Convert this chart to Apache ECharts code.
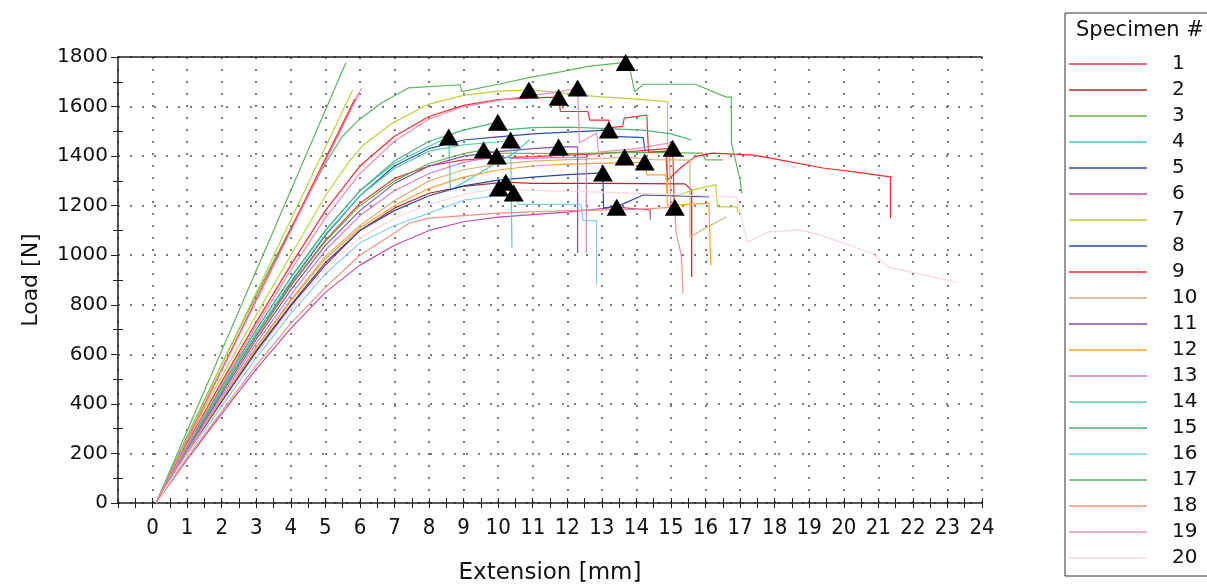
<!DOCTYPE html>
<html><head><meta charset="utf-8">
<script src="https://cdn.jsdelivr.net/npm/echarts@6/dist/echarts.min.js"></script>
<style>html,body{margin:0;padding:0;background:#fff}#c{width:1207px;height:586px}</style>
</head><body><div id="c"></div>
<script>
const specimens = ['1','2','3','4','5','6','7','8','9','10','11','12','13','14','15','16','17','18','19','20'];
const colors = ['#e8393c','#b02a2a','#62b84e','#45c8c8','#2a4fb0','#c04ab0','#b5d53a','#2a4aa8','#ff2a2a','#d8b07a',
                '#8a4cc0','#ffa030','#d77ad0','#5ccfb0','#4db37a','#80d0f0','#5db55d','#f09080','#f08cb8','#ffd6d6'];

const s1 = [[0.1,0],[1,220],[2,450],[3,675],[4,880],[5,1060],[6,1210],[7,1310],[8,1360],[9,1385],[10,1393],[11,1398],[12,1404],[13,1410],[14,1420],[15.05,1432],[15.1,1180]];
const s2 = [[0.1,0],[1,200],[2,410],[3,610],[4,795],[5,960],[6,1100],[7,1190],[8,1250],[9,1278],[10.22,1295],[11,1290],[13,1290],[15.4,1288],[15.6,1263],[15.6,912]];
const s3 = [[0.1,0],[1,220],[2,450],[3,670],[4,875],[5,1055],[6,1200],[7,1300],[8,1370],[9,1410],[9.58,1425],[10,1412],[12,1410],[14,1415],[15.9,1412],[16,1385],[16.5,1385]];
const s4 = [[0.1,0],[1,230],[2,470],[3,700],[4,910],[5,1100],[6,1260],[7,1370],[8,1440],[8.57,1477],[8.62,1263],[9.2,1310],[9.8,1360],[10.5,1415],[10.9,1465]];
const s5 = [[0.1,0],[1,225],[2,460],[3,685],[4,890],[5,1080],[6,1240],[7,1360],[8,1430],[9,1465],[10,1478],[11,1490],[12,1497],[13.2,1505],[13.3,1480],[14.2,1475],[14.25,1420]];
const s6 = [[0.1,0],[1,175],[2,360],[3,540],[4,705],[5,850],[6,960],[7,1040],[8,1100],[9,1135],[10,1154],[12,1174],[13.43,1194],[14.4,1182],[14.4,1142]];
const s7 = [[0.1,0],[1,250],[2,510],[3,760],[4,1000],[5,1240],[5.7,1380],[6.1,1445],[6.9,1530],[8,1610],[9,1645],[10,1662],[10.89,1667],[11.5,1660],[12.5,1645],[12.9,1640],[14,1630],[14.9,1620],[14.9,1245],[15.1,1235],[15.6,1262],[16.3,1285],[16.35,1195],[16.9,1195],[16.95,1170]];
const s8 = [[0.1,0],[1,200],[2,410],[3,615],[4,800],[5,970],[6,1100],[7,1180],[8,1240],[9,1280],[10,1303],[11,1315],[12,1325],[13.03,1332],[13.05,1190],[13.5,1200],[14.2,1243],[15,1240],[16.1,1235]];
const s9 = [[0.1,0],[1,240],[2,490],[3,730],[4,960],[5,1180],[6,1360],[7,1480],[8,1560],[9,1605],[10,1628],[11,1635],[11.75,1638],[11.8,1580],[12.6,1580],[12.65,1545],[13.2,1545],[13.25,1515],[13.6,1520],[13.65,1553],[14.3,1566],[14.35,1416],[14.85,1420],[14.9,1303],[15.3,1355],[15.7,1398],[16.2,1412],[17.4,1404],[18.5,1376],[19.4,1352],[20.3,1336],[21.35,1316],[21.35,1150]];
const s10 = [[0.1,0],[1,205],[2,420],[3,630],[4,820],[5,995],[6,1120],[7,1220],[8,1300],[9,1345],[10,1368],[11,1380],[12,1386],[13,1390],[13.66,1396],[14.5,1386],[15.55,1384],[15.55,1073],[16,1110],[16.6,1154]];
const s11 = [[0.1,0],[1,215],[2,440],[3,660],[4,860],[5,1040],[6,1180],[7,1290],[8,1360],[9,1400],[10,1418],[11,1430],[11.75,1437],[12.3,1437],[12.3,1009]];
const s12 = [[0.1,0],[1,205],[2,420],[3,625],[4,815],[5,985],[6,1110],[7,1200],[8,1270],[9,1315],[10,1344],[11,1360],[12,1368],[13.2,1372],[14.24,1376],[14.3,1324],[14.85,1324],[14.9,1200],[15.5,1205],[16.1,1210],[16.15,960]];
const s13 = [[0.1,0],[1,210],[2,430],[3,645],[4,840],[5,1020],[6,1160],[7,1260],[8,1330],[9,1375],[9.96,1400],[10.5,1390],[11.5,1393],[12.55,1396],[12.55,1009]];
const s14 = [[0.1,0],[1,225],[2,460],[3,685],[4,895],[5,1085],[6,1240],[7,1350],[8,1420],[9,1445],[10,1458],[10.36,1465],[10.4,1029]];
const s15 = [[0.1,0],[1,230],[2,470],[3,700],[4,910],[5,1100],[6,1260],[7,1380],[8,1460],[9,1505],[9.99,1537],[10.1,1505],[11,1515],[12,1517],[13,1512],[14.2,1505],[15,1490],[15.6,1465]];
const s16 = [[0.1,0],[1,190],[2,390],[3,585],[4,765],[5,925],[6,1050],[7,1120],[8,1170],[9,1222],[10.45,1251],[10.6,1205],[12.4,1205],[12.45,1140],[12.85,1140],[12.85,880]];
const s17 = [[0.1,0],[1,270],[2,560],[3,840],[4,1110],[5,1370],[5.5,1480],[6,1550],[6.6,1612],[7.4,1675],[8.9,1688],[8.95,1660],[10,1690],[11,1720],[11.8,1740],[12.6,1762],[13.69,1778],[13.8,1760],[13.95,1660],[14.2,1690],[15.7,1690],[16.6,1638],[16.75,1638],[16.75,1453],[17,1303],[17.05,1250]];
const s18 = [[0.1,0],[1,180],[2,370],[3,555],[4,725],[5,870],[6,1000],[7,1090],[7.44,1130],[8,1150],[10,1170],[12,1180],[14,1185],[15.11,1194],[15.15,1090],[15.3,1000],[15.35,847]];
const s19 = [[0.1,0],[1,235],[2,480],[3,715],[4,940],[5,1150],[6,1330],[7,1460],[8,1550],[9,1600],[10,1625],[11,1645],[11.8,1660],[12.3,1675],[12.35,1453],[12.85,1493],[12.9,1416],[14,1430],[14.95,1453],[15,1170]];
const s20 = [[0.1,0],[1,195],[2,400],[3,600],[4,780],[5,945],[6,1070],[7,1150],[8,1205],[9,1245],[10.02,1271],[11,1262],[12,1258],[13,1255],[14,1250],[15,1245],[16,1240],[16.9,1235],[17.2,1053],[17.8,1093],[18.7,1102],[19.3,1082],[20.8,1009],[21.3,952],[23.3,890]];

// early straight loading segments that stop near 5.5-6 mm
const steep1 = [[0.1,0],[5.85,1630]];
const steep7 = [[0.1,0],[5.79,1667]];
const steep9 = [[0.1,0],[5.95,1650]];
const steep17 = [[0.1,0],[5.59,1776]];
const steep19 = [[0.1,0],[6.05,1675]];

// maximum-load markers
const maxPoints = [[8.57,1477],[9.58,1425],[9.99,1537],[9.96,1400],[10.36,1465],[10.02,1271],[10.22,1295],[10.45,1251],
  [10.89,1667],[11.75,1638],[11.75,1437],[12.30,1675],[13.03,1332],[13.2,1505],[13.43,1194],[13.69,1778],[13.66,1396],
  [14.24,1376],[15.05,1432],[15.11,1194]];

const xMin = -1, xMax = 24, xStep = 1;
const yMin = 0, yMax = 1800, yStep = 200;

const curves = [s1,s2,s3,s4,s5,s6,s7,s8,s9,s10,s11,s12,s13,s14,s15,s16,s17,s18,s19,s20];
const extras = [[steep1,0],[steep7,6],[steep9,8],[steep17,16],[steep19,18]];

const FONT = "'DejaVu Sans', Verdana, sans-serif";
const FONT_C = "'DejaVu Sans Condensed', 'Liberation Sans Narrow', 'DejaVu Sans', sans-serif";

const series = [];
curves.forEach((d, i) => {
  series.push({
    name: specimens[i], type: 'line', data: d, symbol: 'none', showSymbol: false,
    lineStyle: { width: 1.2, color: colors[i] }, itemStyle: { color: colors[i] },
    xAxisIndex: 0, yAxisIndex: 0, animation: false, z: 2
  });
});
extras.forEach(([d, i]) => {
  series.push({
    name: specimens[i], type: 'line', data: d, symbol: 'none', showSymbol: false,
    lineStyle: { width: 1.2, color: colors[i] }, itemStyle: { color: colors[i] },
    xAxisIndex: 0, yAxisIndex: 0, animation: false, z: 2
  });
});
series.push({
  name: 'max', type: 'scatter', data: maxPoints, symbol: 'triangle', symbolSize: [20, 17],
  itemStyle: { color: '#000', opacity: 1 }, xAxisIndex: 0, yAxisIndex: 0, animation: false, z: 5
});

const dotted = { show: true, lineStyle: { type: [2, 10], color: '#7a7a7a', width: 2 } };
const axisCol = '#222';

const chart = echarts.init(document.getElementById('c'), null, { renderer: 'canvas' });
chart.setOption({
  animation: false,
  backgroundColor: '#fff',
  title: { text: 'Specimen #', left: 1071, top: 15, textStyle: { fontFamily: FONT, fontSize: 21, fontWeight: 'normal', color: '#111' } },
  legend: {
    data: specimens, orient: 'vertical', left: 1065, top: 13, padding: [38, 40, 5, 4],
    icon: 'rect', itemWidth: 78, itemHeight: 1.5, itemGap: 0, borderColor: '#333', borderWidth: 1,
    selectedMode: false,
    textStyle: { fontFamily: FONT, fontSize: 20, lineHeight: 22, color: '#111', padding: [4, 0, 0, 20] }
  },
  grid: { left: 118, right: 225, top: 57, bottom: 83, containLabel: false, outerBoundsMode: 'none' },
  xAxis: [
    { type: 'value', min: xMin, max: xMax, interval: xStep, position: 'bottom',
      axisLine: { show: true, onZero: false, lineStyle: { color: axisCol, width: 1.5 } },
      axisTick: { show: true, length: 5, lineStyle: { color: axisCol } },
      minorTick: { show: true, splitNumber: 2, length: 5, lineStyle: { color: axisCol } },
      axisLabel: { formatter: v => (v < 0 ? '' : String(v)), margin: 14, fontFamily: FONT_C, fontSize: 22, color: '#111' },
      splitLine: dotted,
      name: 'Extension [mm]', nameLocation: 'middle', nameGap: 59,
      nameTextStyle: { fontFamily: FONT, fontSize: 23, color: '#111' } },
    { type: 'value', min: xMin, max: xMax, interval: xStep, position: 'bottom',
      axisLine: { show: false, onZero: false },
      axisTick: { show: true, inside: true, length: 5, lineStyle: { color: axisCol } },
      minorTick: { show: true, splitNumber: 2, length: 5, lineStyle: { color: axisCol } },
      axisLabel: { show: false }, splitLine: { show: false } },
    { type: 'value', min: xMin, max: xMax, interval: xStep, position: 'top',
      axisLine: { show: true, onZero: false, lineStyle: { color: axisCol, width: 1.5 } },
      axisTick: { show: false }, axisLabel: { show: false }, splitLine: { show: false } }
  ],
  yAxis: [
    { type: 'value', min: yMin, max: yMax, interval: yStep, position: 'left',
      axisLine: { show: true, onZero: false, lineStyle: { color: axisCol, width: 1.5 } },
      axisTick: { show: true, length: 7, lineStyle: { color: axisCol } },
      minorTick: { show: true, splitNumber: 2, length: 5, lineStyle: { color: axisCol } },
      axisLabel: { formatter: v => String(v), margin: 10, fontFamily: FONT, fontSize: 20, color: '#111' },
      splitLine: dotted,
      name: 'Load [N]', nameLocation: 'middle', nameGap: 76, nameRotate: 90,
      nameTextStyle: { fontFamily: FONT, fontSize: 22, color: '#111' } },
    { type: 'value', min: yMin, max: yMax, interval: yStep, position: 'left',
      axisLine: { show: false, onZero: false },
      axisTick: { show: false, inside: true },
      minorTick: { show: true, splitNumber: 2, length: 5, lineStyle: { color: axisCol } },
      axisLabel: { show: false }, splitLine: { show: false } }
  ],
  series: series
});
</script>
</body></html>
